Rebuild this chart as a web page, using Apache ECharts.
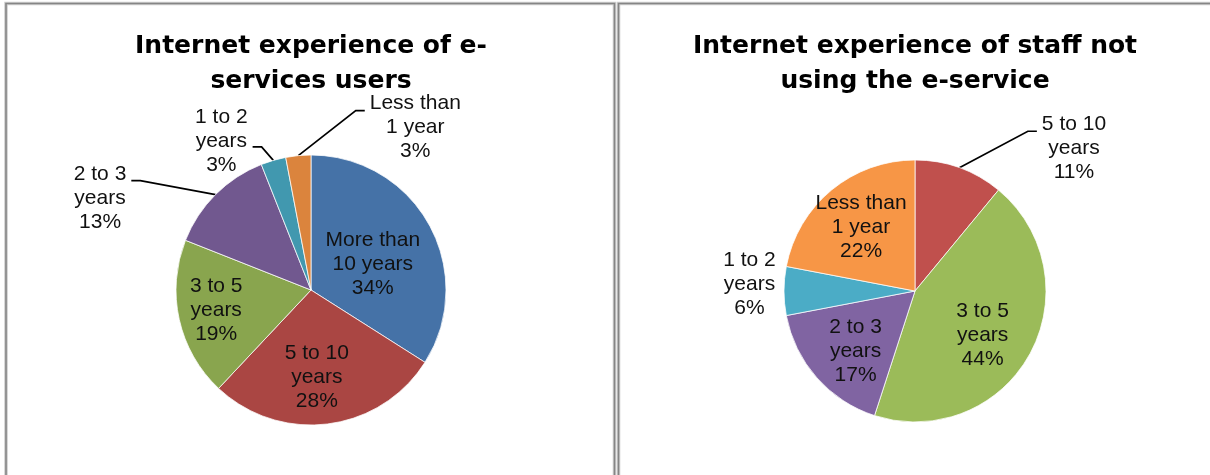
<!DOCTYPE html>
<html>
<head>
<meta charset="utf-8">
<script src="https://cdn.jsdelivr.net/npm/echarts@6/dist/echarts.min.js"></script>
<style>
  html, body { margin: 0; padding: 0; background: #ffffff; }
  #chart { width: 1210px; height: 475px; }
</style>
</head>
<body>
<div id="chart"></div>
<script>
// Years of Internet experience, percent of respondents in each group
const usersCategories = ['More than 10 years', '5 to 10 years', '3 to 5 years', '2 to 3 years', '1 to 2 years', 'Less than 1 year'];
const usersShares = [34, 28, 19, 13, 3, 3];

const staffCategories = ['5 to 10 years', '3 to 5 years', '2 to 3 years', '1 to 2 years', 'Less than 1 year'];
const staffShares = [11, 44, 17, 6, 22];

const usersTitle = 'Internet experience of e-\nservices users';
const staffTitle = 'Internet experience of staff not\nusing the e-service';

// Slice colours per category
const usersPalette = {
  'More than 10 years': '#4572A7',
  '5 to 10 years': '#AA4643',
  '3 to 5 years': '#89A54E',
  '2 to 3 years': '#71588F',
  '1 to 2 years': '#4198AF',
  'Less than 1 year': '#DB843D'
};
const staffPalette = {
  '5 to 10 years': '#C0504D',
  '3 to 5 years': '#9BBB59',
  '2 to 3 years': '#8064A2',
  '1 to 2 years': '#4BACC6',
  'Less than 1 year': '#F79646'
};

// Label placement per slice (same order as the data):
//  inside  -> nudge from the default in-slice spot
//  outside -> label centre relative to the slice's outer-edge midpoint,
//             optional leader with a short horizontal run into the label
const usersLabelPlacement = [
  { inside: true, shift: [0, 8] },
  { inside: true, shift: [-3, 17] },
  { inside: true, shift: [-26, 5] },
  { offset: [-115.5, 4], leader: { side: 'right', drop: 18, run: 9 } },
  { offset: [-52, -19], leader: { side: 'right', drop: 41.5, run: 9 } },
  { offset: [117, -28], leader: { side: 'left', drop: 19, run: 9 } }
];
const staffLabelPlacement = [
  { offset: [114.6, -20], leader: { side: 'left', drop: 19.5, run: 9 } },
  { inside: true, shift: [7.6, 11.4] },
  { inside: true, shift: [-8, 14.7] },
  { offset: [-34.5, -7] },
  { inside: true, shift: [-10.3, -10.6] }
];

const LABEL_FONT = "'Liberation Sans', Arial, sans-serif";
const TITLE_FONT = "'DejaVu Sans', Verdana, sans-serif";

function wrapName(name) {
  if (name.indexOf(' than ') >= 0) return name.replace(' than ', ' than\n');
  return name.replace(' years', '\nyears');
}

function labelText(p) {
  const lines = wrapName(p.name).split('\n');
  lines.push(p.value + '%');
  return lines.map(function (s) { return '{c|' + s + '}'; }).join('\n');
}

function placeLabels(placements) {
  return function (params) {
    const p = placements[params.dataIndex];
    const r = params.labelRect;
    const cx = r.x + r.width / 2;
    const cy = r.y + r.height / 2;
    if (p.inside) {
      return { x: cx + p.shift[0], y: cy + p.shift[1], align: 'center', verticalAlign: 'middle' };
    }
    let anchor;
    if (params.labelLinePoints && params.labelLinePoints.length) {
      anchor = params.labelLinePoints[0];
    } else {
      anchor = [params.align === 'right' ? r.x + r.width + 5 : r.x - 5, cy];
    }
    const x = anchor[0] + p.offset[0];
    const y = anchor[1] + p.offset[1];
    const out = { x: x, y: y, align: 'center', verticalAlign: 'middle' };
    if (p.leader) {
      const top = y - r.height / 2;
      const endX = p.leader.side === 'left' ? x - r.width / 2 - 5 : x + r.width / 2 + 5;
      const endY = top + p.leader.drop;
      const elbowX = p.leader.side === 'left' ? endX - p.leader.run : endX + p.leader.run;
      out.labelLinePoints = [[anchor[0], anchor[1]], [elbowX, endY], [endX, endY]];
    }
    return out;
  };
}

function pieSeries(categories, shares, palette, placements, center, radius) {
  return {
    type: 'pie',
    center: center,
    radius: radius,
    startAngle: 90,
    clockwise: true,
    avoidLabelOverlap: false,
    silent: true,
    animation: false,
    itemStyle: { borderColor: 'rgba(255,255,255,0.75)', borderWidth: 1 },
    label: {
      show: true,
      position: 'outside',
      formatter: labelText,
      fontFamily: LABEL_FONT,
      fontSize: 21,
      lineHeight: 24,
      color: '#111',
      rich: {
        c: { fontFamily: LABEL_FONT, fontSize: 21, lineHeight: 24, color: '#111', align: 'center' }
      }
    },
    labelLine: {
      show: true,
      length: 0,
      length2: 0,
      lineStyle: { color: '#000', width: 1.7 }
    },
    labelLayout: placeLabels(placements),
    data: categories.map(function (name, i) {
      const pl = placements[i];
      return {
        name: name,
        value: shares[i],
        itemStyle: { color: palette[name] },
        label: { position: pl.inside ? 'inside' : 'outside' },
        labelLine: { show: !!pl.leader }
      };
    })
  };
}

function titleOf(text, centerX) {
  return {
    text: text,
    left: centerX,
    top: 29,
    textAlign: 'center',
    padding: 0,
    textStyle: {
      fontFamily: TITLE_FONT,
      fontWeight: 'bold',
      fontSize: 25,
      lineHeight: 35,
      color: '#000'
    }
  };
}

// Panel frames: soft outer stroke with a darker core line
function frame(x, y, w, h) {
  return [
    { type: 'rect', silent: true, z: 0, shape: { x: x, y: y, width: w, height: h },
      style: { fill: 'none', stroke: '#cfcfcf', lineWidth: 3.6 } },
    { type: 'rect', silent: true, z: 1, shape: { x: x, y: y, width: w, height: h },
      style: { fill: 'none', stroke: '#858585', lineWidth: 1.6 } }
  ];
}

const chart = echarts.init(document.getElementById('chart'), null, { renderer: 'canvas' });
chart.setOption({
  backgroundColor: '#ffffff',
  animation: false,
  title: [titleOf(usersTitle, 311), titleOf(staffTitle, 915)],
  graphic: frame(6, 3.5, 608.5, 520).concat(frame(618.5, 3.5, 640, 520)),
  series: [
    pieSeries(usersCategories, usersShares, usersPalette, usersLabelPlacement, [311, 290], 135),
    pieSeries(staffCategories, staffShares, staffPalette, staffLabelPlacement, [915, 291], 131)
  ]
});
</script>
</body>
</html>
